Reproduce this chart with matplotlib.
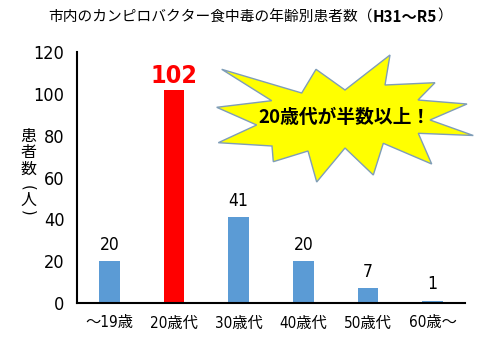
import matplotlib
matplotlib.use("Agg")
import matplotlib.pyplot as plt
from matplotlib.patches import Polygon

categories = ["～19歳", "20歳代", "30歳代", "40歳代", "50歳代", "60歳～"]
values = [20, 102, 41, 20, 7, 1]
colors = ["#5B9BD5", "#FF0000", "#5B9BD5", "#5B9BD5", "#5B9BD5", "#5B9BD5"]
yticks = [0, 20, 40, 60, 80, 100, 120]
title_main = "市内のカンピロバクター食中毒の年齢別患者数（"
title_sub = "H31～R5"
title_end = "）"
ylabel_chars = ["患", "者", "数", "(", "人", ")"]
callout = "20歳代が半数以上！"

NARROW = ["DejaVu Sans", "Noto Sans CJK JP"]
CJK = ["Noto Sans CJK JP", "DejaVu Sans"]

W, H = 482, 354
fig = plt.figure(figsize=(W / 100, H / 100), dpi=100)
ax = fig.add_axes([77 / W, 1 - 303 / H, (465 - 77) / W, (303 - 52) / H])

x = list(range(len(categories)))
ax.bar(x, values, width=0.32, color=colors, zorder=2)
ax.set_xlim(-0.5, len(categories) - 0.5)
ax.set_ylim(0, 120)
ax.set_yticks(yticks)
ax.set_yticklabels([str(t) for t in yticks], family=NARROW, fontsize=13,
                   fontstretch="condensed")
ax.set_xticks(x)
ax.set_xticklabels(categories, family=NARROW, fontsize=11,
                   fontstretch="condensed")
ax.tick_params(axis="both", length=0)
ax.tick_params(axis="y", pad=9)
ax.tick_params(axis="x", pad=9)
for s in ["top", "right"]:
    ax.spines[s].set_visible(False)
for s in ["left", "bottom"]:
    ax.spines[s].set_linewidth(1.5)
    ax.spines[s].set_color("black")

for xi, v in zip(x, values):
    if v == max(values):
        ax.annotate(str(v), (xi, v), xytext=(0, 10), textcoords="offset points",
                    ha="center", va="center", color="#FF0000", fontsize=18,
                    fontweight="bold", family=NARROW, fontstretch="condensed")
    else:
        ax.annotate(str(v), (xi, v), xytext=(0, 12), textcoords="offset points",
                    ha="center", va="center", color="black", fontsize=12.5,
                    family=NARROW, fontstretch="condensed")

# y label stacked vertically (parentheses rotated for vertical writing)
ypos = [136, 152, 169, 187.5, 200, 212.5]
for ch, yp in zip(ylabel_chars, ypos):
    if ch in "()":
        fig.text(28 / W, 1 - yp / H, ch, ha="center", va="center", fontsize=10.5,
                 family=["DejaVu Sans"], rotation=-90)
    else:
        fig.text(28 / W, 1 - yp / H, ch, ha="center", va="center", fontsize=11.5,
                 family=CJK)

# Title (mixed styles)
fig.canvas.draw()
r = fig.canvas.get_renderer()
t1 = fig.text(48 / W, 1 - 17 / H, title_main, ha="left", va="center",
              fontsize=10.6, family=CJK)
bb = t1.get_window_extent(r)
t2 = fig.text(bb.x1 / W, 1 - 17 / H, title_sub, ha="left", va="center",
              fontsize=11, family=CJK, fontweight="bold")
bb2 = t2.get_window_extent(r)
fig.text(bb2.x1 / W, 1 - 17 / H, title_end, ha="left", va="center",
         fontsize=10.6, family=CJK)

# Starburst callout
pts = [(221.7, 69.3), (301.7, 93), (316, 69.3), (345, 90), (390, 55), (385, 85),
       (435, 82.7), (418, 100), (467, 104), (430, 120), (473.3, 135.5),
       (418.3, 133.3), (431.7, 164), (383.3, 143.3), (373.3, 175),
       (345, 148), (316.7, 182), (308, 151), (273.3, 161.7), (272, 146),
       (218.3, 142.7), (256.7, 125), (216.7, 107.3), (271.7, 100.7)]
poly = Polygon([(px / W, 1 - py / H) for px, py in pts], closed=True,
               transform=fig.transFigure, facecolor="#FFFF00",
               edgecolor="#7F9DB9", linewidth=1.0, zorder=5)
fig.patches.append(poly)
fig.text(344 / W, 1 - 118 / H, callout, ha="center", va="center",
         fontsize=13.5, fontweight="bold", family=CJK, zorder=6)

fig.savefig("out.png", dpi=100)
